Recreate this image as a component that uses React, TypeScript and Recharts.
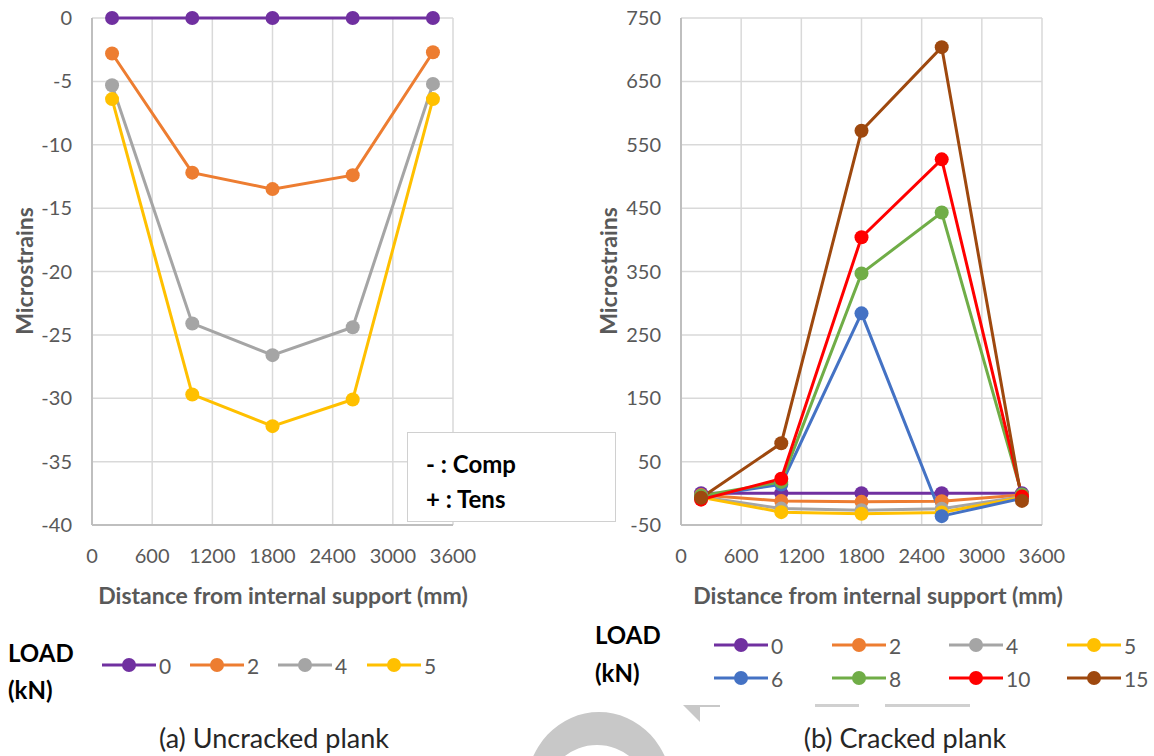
import React from "react";
import { CartesianGrid, Line, LineChart, XAxis, YAxis } from "recharts";

// gauge positions along the plank (mm)
const distances = [200, 1000, 1800, 2600, 3400];
const xTicks = [0, 600, 1200, 1800, 2400, 3000, 3600];
const uncrackedTicks = [-40, -35, -30, -25, -20, -15, -10, -5, 0];
const crackedTicks = [-50, 50, 150, 250, 350, 450, 550, 650, 750];

// microstrains per load step (kN)
const load0 = [0, 0, 0, 0, 0];
const load2 = [-2.8, -12.2, -13.5, -12.4, -2.7];
const load4 = [-5.3, -24.1, -26.6, -24.4, -5.2];
const load5 = [-6.4, -29.7, -32.2, -30.1, -6.4];
const load6 = [-5, 14, 284, -36, -8];
const load8 = [-4, 18, 347, 443, -2];
const load10 = [-10, 23, 404, 527, -5];
const load15 = [-7, 79, 572, 704, -12];

const uncrackedLoads = ["0", "2", "4", "5"];
const crackedLoads = ["0", "2", "4", "5", "6", "8", "10", "15"];

const loadValues: Record<string, number[]> = {
  "0": load0,
  "2": load2,
  "4": load4,
  "5": load5,
  "6": load6,
  "8": load8,
  "10": load10,
  "15": load15,
};

const loadColors: Record<string, string> = {
  "0": "#7030a0",
  "2": "#ed7d31",
  "4": "#a5a5a5",
  "5": "#ffc000",
  "6": "#4472c4",
  "8": "#70ad47",
  "10": "#ff0000",
  "15": "#9e480e",
};

const FONT = "Lato, 'Open Sans', sans-serif";
const AXIS_TEXT = "#595959";

function buildRows(loads: string[]) {
  return distances.map((d, i) => {
    const row: Record<string, number> = { x: d };
    loads.forEach((l) => (row[l] = loadValues[l][i]));
    return row;
  });
}

const tickStyle = { fill: AXIS_TEXT, fontSize: 20, fontFamily: FONT };

function StrainChart({
  loads,
  ticks,
  left,
  yAxisWidth,
}: {
  loads: string[];
  ticks: number[];
  left: number;
  yAxisWidth: number;
}) {
  const rows = buildRows(loads);
  return (
    <div style={{ position: "absolute", left, top: 0 }}>
      <LineChart
        width={yAxisWidth + 361 + 37}
        height={620}
        data={rows}
        margin={{ top: 18, right: 37, bottom: 0, left: 0 }}
      >
        <CartesianGrid stroke="#d9d9d9" strokeWidth={1.5} />
        <XAxis
          type="number"
          dataKey="x"
          domain={[0, 3600]}
          ticks={xTicks}
          height={95}
          tick={tickStyle}
          tickLine={false}
          tickSize={0}
          tickMargin={24}
          axisLine={{ stroke: "#bfbfbf", strokeWidth: 2 }}
        />
        <YAxis
          type="number"
          domain={[ticks[0], ticks[ticks.length - 1]]}
          ticks={ticks}
          width={yAxisWidth}
          tick={tickStyle}
          tickLine={false}
          tickSize={0}
          tickMargin={20}
          axisLine={{ stroke: "#bfbfbf", strokeWidth: 2 }}
          interval={0}
        />
        {loads.map((l) => (
          <Line
            key={l}
            dataKey={l}
            stroke={loadColors[l]}
            strokeWidth={3}
            dot={{ r: 7, fill: loadColors[l], stroke: loadColors[l], strokeWidth: 0 }}
            activeDot={false}
            isAnimationActive={false}
          />
        ))}
      </LineChart>
    </div>
  );
}

function LegendKey({ load, x, y }: { load: string; x: number; y: number }) {
  const c = loadColors[load];
  return (
    <div style={{ position: "absolute", left: x, top: y - 12, height: 24, display: "flex", alignItems: "center" }}>
      <svg width={54} height={20}>
        <line x1={0} y1={10} x2={54} y2={10} stroke={c} strokeWidth={3} />
        <circle cx={27} cy={10} r={7} fill={c} />
      </svg>
      <span style={{ marginLeft: 3, fontSize: 21, color: AXIS_TEXT, fontFamily: FONT }}>{load}</span>
    </div>
  );
}

const text = (extra: React.CSSProperties): React.CSSProperties => ({
  position: "absolute",
  fontFamily: FONT,
  whiteSpace: "nowrap",
  transform: "translate(-50%, -50%)",
  ...extra,
});

const loadTitle: React.CSSProperties = { fontSize: 24, fontWeight: 700, color: "#000" };
const axisTitle: React.CSSProperties = { fontSize: 23, fontWeight: 700, color: AXIS_TEXT };

export default function App() {
  const crackedCols = [714, 832, 949, 1067];
  const crackedRows = [645, 678];
  const uncrackedCols = [102, 190, 278, 367];

  return (
    <div style={{ position: "absolute", left: 0, top: 0, width: 1154, height: 756, background: "#fff", overflow: "hidden" }}>
      <StrainChart loads={uncrackedLoads} ticks={uncrackedTicks} left={0} yAxisWidth={92} />
      <StrainChart loads={crackedLoads} ticks={crackedTicks} left={590} yAxisWidth={91} />

      {/* axis titles */}
      <div style={text({ left: 24, top: 271, ...axisTitle, transform: "translate(-50%, -50%) rotate(-90deg)" })}>
        Microstrains
      </div>
      <div style={text({ left: 608, top: 271, ...axisTitle, transform: "translate(-50%, -50%) rotate(-90deg)" })}>
        Microstrains
      </div>
      <div style={text({ left: 283, top: 595, ...axisTitle })}>Distance from internal support (mm)</div>
      <div style={text({ left: 878, top: 595, ...axisTitle })}>Distance from internal support (mm)</div>

      {/* sign convention note */}
      <div
        style={{
          position: "absolute",
          left: 407,
          top: 432,
          width: 209,
          height: 90,
          boxSizing: "border-box",
          border: "1.5px solid #d0d0d0",
          background: "#fff",
          paddingLeft: 18,
          paddingTop: 13,
          fontFamily: FONT,
          fontWeight: 700,
          fontSize: 24,
          lineHeight: "35px",
          color: "#000",
        }}
      >
        <div>- : Comp</div>
        <div>+ : Tens</div>
      </div>

      {/* legends */}
      <div style={{ ...text({ left: 8, top: 652, transform: "translate(0, -50%)" }), ...loadTitle }}>LOAD</div>
      <div style={{ ...text({ left: 8, top: 689, transform: "translate(0, -50%)" }), ...loadTitle }}>(kN)</div>
      {uncrackedLoads.map((l, i) => (
        <LegendKey key={l} load={l} x={uncrackedCols[i]} y={665} />
      ))}

      <div style={{ ...text({ left: 595, top: 634, transform: "translate(0, -50%)" }), ...loadTitle }}>LOAD</div>
      <div style={{ ...text({ left: 595, top: 672, transform: "translate(0, -50%)" }), ...loadTitle }}>(kN)</div>
      {crackedLoads.map((l, i) => (
        <LegendKey key={l} load={l} x={crackedCols[i % 4]} y={crackedRows[Math.floor(i / 4)]} />
      ))}

      {/* captions */}
      <div style={text({ left: 274, top: 737, fontSize: 27, color: "#262626" })}>(a) Uncracked plank</div>
      <div style={text({ left: 905, top: 737, fontSize: 27, color: "#262626" })}>(b) Cracked plank</div>

      {/* faint background mark */}
      <svg width={1154} height={756} style={{ position: "absolute", left: 0, top: 0, pointerEvents: "none" }}>
        <path
          fillRule="evenodd"
          fill="#c8c8c8"
          d="M526,790 a73,78 0 1,0 146,0 a73,78 0 1,0 -146,0 Z M548,790 a49,45 0 1,0 98,0 a49,45 0 1,0 -98,0 Z"
        />
        <polygon points="683,705 720,705 720,707 700,707 700,722" fill="#c8c8c8" />
        <rect x={815} y={704} width={44} height={3} fill="#d0d0d0" />
        <rect x={885} y={704} width={85} height={3} fill="#d0d0d0" />
      </svg>
    </div>
  );
}
